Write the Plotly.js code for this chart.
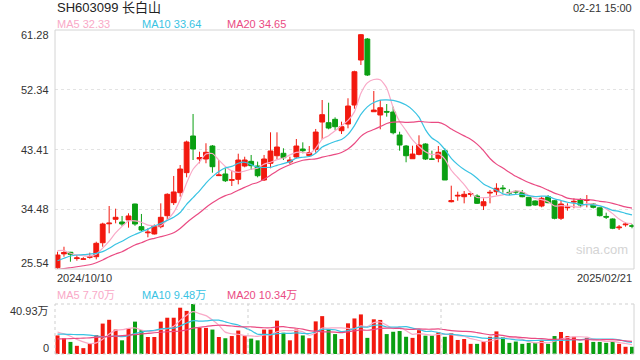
<!DOCTYPE html>
<html><head><meta charset="utf-8">
<script src="https://cdn.plot.ly/plotly-3.0.1.min.js"></script>
<style>html,body{margin:0;padding:0;background:#fff}#chart{width:640px;height:360px}</style>
</head><body><div id="chart"></div>
<script>
// ---- data ----
const titleText = 'SH603099 长白山';
const timeText = '02-21 15:00';
const dateLabels = ['2024/10/10', '2025/02/21'];
const priceTicks = [25.54, 34.48, 43.41, 52.34, 61.28];
const volTicks = ['0', '40.93万'];
const volMax = 40.93;
const maLegend = ['MA5 32.33', 'MA10 33.64', 'MA20 34.65'];
const volLegend = ['MA5 7.70万', 'MA10 9.48万', 'MA20 10.34万'];

const open = [25.73,27.8,28.04,27.1,27.0,27.28,27.38,29.47,32.3,32.97,
32.57,32.87,35.26,31.87,30.95,30.78,31.87,33.51,35.46,36.95,
39.95,45.43,42.0,41.99,43.93,39.5,39.75,38.8,38.95,40.94,
41.64,40.94,38.85,41.35,42.48,42.84,41.54,42.29,43.48,42.48,
43.43,47.52,47.42,47.92,46.22,47.22,50.06,56.79,59.93,49.06,
48.57,49.1,49.01,45.58,43.93,42.03,42.68,44.23,42.0,42.09,
43.23,35.6,36.45,36.35,36.7,36.46,35.0,36.9,37.1,37.65,
37.0,37.15,36.95,36.26,35.71,34.96,36.35,35.75,33.12,34.7,
35.55,35.86,35.8,35.26,34.7,33.4,33.02,31.7,32.15,32.0];
const close = [27.63,28.0,27.74,27.2,27.05,27.38,29.38,32.27,32.4,33.27,
32.27,33.47,32.27,31.37,31.05,31.97,33.27,36.71,37.06,40.49,
44.53,43.48,42.2,42.99,40.84,39.6,38.74,38.9,41.84,41.84,
40.99,39.49,41.99,43.19,43.78,42.18,41.84,43.93,43.23,42.93,
46.02,48.62,46.62,46.82,46.82,49.91,55.04,60.58,54.55,49.31,
49.66,49.0,45.92,44.08,42.48,42.73,44.08,41.99,41.95,42.99,
38.85,35.75,36.55,36.71,36.8,35.36,35.6,37.0,37.61,37.55,
36.9,37.05,36.35,35.0,35.11,36.11,35.46,33.12,35.26,34.8,
35.65,35.11,35.9,34.76,33.51,33.3,31.63,31.8,32.25,31.95];
const high = [28.13,28.87,28.1,27.63,27.3,27.98,29.62,32.46,34.96,34.56,
33.47,33.87,35.3,33.77,31.63,32.2,35.36,36.86,39.45,41.09,
44.73,48.72,43.08,44.34,44.08,41.84,40.6,40.24,42.78,42.33,
42.59,41.59,42.59,45.98,45.98,43.59,42.33,44.98,44.48,43.93,
46.48,50.81,50.41,48.22,47.57,51.07,55.19,60.68,60.08,52.16,
50.81,50.21,49.81,46.07,44.08,43.98,45.53,44.34,43.23,43.93,
43.59,38.0,37.1,37.2,37.1,36.71,36.11,37.35,38.36,38.1,
37.46,37.35,37.35,36.3,35.8,36.35,36.6,35.86,35.75,35.36,
36.11,36.11,36.6,35.4,34.75,33.96,33.1,32.12,32.52,32.27];
const low = [25.54,27.38,26.63,26.78,26.95,27.08,26.99,28.87,30.88,32.37,
31.97,31.72,32.0,31.2,30.28,30.7,31.63,32.87,35.11,36.35,
39.25,41.84,41.35,41.35,39.94,39.45,38.55,37.95,38.2,40.75,
40.34,39.25,38.7,40.6,41.99,41.84,41.24,42.09,42.84,42.33,
42.93,44.98,46.43,46.33,45.73,46.58,49.51,56.05,54.4,49.06,
46.43,48.32,45.68,43.23,41.5,42.03,42.54,41.84,41.84,41.5,
38.85,35.5,35.75,35.36,36.35,35.26,34.36,35.36,36.6,36.95,
36.6,36.76,36.26,34.95,35.0,34.76,35.36,32.97,32.87,34.26,
34.62,34.76,34.76,34.6,33.4,33.02,31.5,31.37,31.87,31.63];

const ma5 = [28.28,28.3,27.89,27.63,27.52,27.47,27.75,28.66,29.70,30.94,
31.92,32.74,32.74,32.53,32.09,32.03,31.99,32.87,34.01,35.9,
38.41,40.45,41.55,42.74,42.81,41.82,40.87,40.21,39.98,40.18,
40.46,40.61,41.23,41.5,41.89,42.13,42.6,42.98,42.99,42.82,
43.59,44.95,45.48,46.2,46.98,47.76,49.04,51.83,53.38,53.88,
53.83,52.62,49.69,47.59,46.23,44.84,43.86,43.07,42.65,42.75,
41.97,40.31,39.22,38.17,36.93,36.23,36.2,36.29,36.47,36.62,
36.93,37.22,37.09,36.57,36.08,35.92,35.61,34.96,35.01,34.95,
34.86,34.79,35.34,35.24,34.99,34.52,33.82,33.0,32.45,32.33];
const ma10 = [26.78,27.14,27.48,27.63,27.68,27.78,27.89,28.13,28.63,29.23,
29.70,30.24,30.70,31.11,31.51,31.97,32.36,32.81,33.27,33.99,
35.22,36.22,37.21,38.38,39.35,40.12,40.66,40.88,41.36,41.5,
41.14,40.74,40.72,40.74,41.04,41.29,41.6,42.11,42.25,42.36,
42.86,43.77,44.23,44.6,44.9,45.67,46.99,48.66,49.79,50.43,
50.79,50.83,50.76,50.49,50.05,49.34,48.24,46.38,45.12,44.49,
43.41,42.08,41.15,40.41,39.84,39.1,38.26,37.76,37.32,36.78,
36.58,36.71,36.69,36.52,36.35,36.43,36.41,36.03,35.79,35.52,
35.39,35.2,35.15,35.13,34.97,34.69,34.3,34.17,33.87,33.64];
const ma20 = [25.5,25.59,25.73,25.88,26.03,26.18,26.48,26.89,27.38,27.78,
28.13,28.63,29.13,29.47,29.88,30.13,30.37,30.62,30.97,31.61,
32.46,33.23,33.95,34.74,35.43,36.04,36.51,36.84,37.32,37.74,
38.18,38.48,38.97,39.56,40.2,40.71,41.13,41.5,41.8,41.93,
42.0,42.26,42.48,42.67,42.97,43.48,44.3,45.38,46.02,46.39,
46.83,47.3,47.5,47.54,47.48,47.5,47.62,47.52,47.46,47.46,
47.1,46.46,45.95,45.45,44.95,44.22,43.25,42.07,41.22,40.63,
40.0,39.4,38.92,38.47,38.1,37.77,37.33,36.89,36.56,36.15,
35.99,35.96,35.92,35.83,35.66,35.56,35.36,35.1,34.83,34.65];

const vol = [15.2,12.9,9.9,6.7,4.8,8.5,15.5,24.9,28.0,20.0,
11.2,20.9,26.5,19.5,13.9,13.9,26.5,29.7,29.7,37.9,
35.3,40.93,21.4,21.4,20.0,13.9,12.9,14.7,19.2,14.7,
12.6,11.2,20.0,20.0,27.3,17.4,11.2,20.0,15.2,12.9,
26.7,31.0,20.3,16.3,12.3,25.1,29.1,32.4,13.2,28.4,
27.9,16.3,18.2,18.8,14.1,13.2,19.5,15.0,15.0,17.7,
14.1,16.9,11.5,12.3,8.3,8.3,10.2,14.1,18.5,13.7,
9.1,10.2,8.3,9.1,9.1,11.0,8.3,14.7,18.0,14.7,
14.1,9.1,13.2,9.9,9.9,9.1,9.9,8.3,5.9,5.9];
const vma5 = [18.0,16.5,14.5,12.0,9.9,8.56,9.08,12.08,16.34,19.38,
19.92,21.0,21.32,19.62,18.4,18.94,20.06,20.7,22.74,27.54,
31.82,34.71,33.05,31.39,27.81,23.53,17.92,16.58,16.14,15.08,
14.82,14.48,15.54,15.7,18.22,19.18,19.18,19.18,18.22,15.34,
17.2,21.16,21.22,21.44,21.32,21.0,20.62,23.04,22.42,25.64,
26.2,23.64,20.8,21.92,19.06,16.12,16.76,16.12,15.36,16.08,
16.26,15.74,15.04,14.5,12.62,11.46,10.12,10.64,11.88,12.96,
13.12,13.12,11.96,10.08,9.16,9.54,9.16,10.44,12.22,13.34,
13.96,14.12,13.82,12.2,11.24,10.24,10.4,9.42,8.62,7.70];
const vma10 = [16.3,16.2,16.0,15.9,15.8,15.4,14.8,14.2,14.4,14.64,
14.24,15.04,16.7,17.98,18.89,19.43,20.53,21.01,21.18,22.97,
25.38,27.38,26.87,27.06,27.67,27.67,26.31,24.81,23.76,21.44,
19.17,16.2,16.06,15.92,16.65,17.0,16.83,17.36,16.96,16.78,
18.19,20.17,20.2,19.83,18.33,19.1,20.89,22.13,21.93,23.48,
23.6,22.13,21.92,22.17,22.35,21.16,20.2,18.46,18.64,17.57,
16.19,16.25,15.58,14.93,14.35,13.86,12.93,12.84,13.19,12.79,
12.29,11.62,11.3,10.98,11.06,11.33,11.14,11.2,11.15,11.25,
11.75,11.64,12.13,12.21,12.29,12.1,12.26,11.62,10.4,9.48];
const vma20 = [12.3,12.4,12.6,12.8,13.0,13.2,13.6,14.0,14.3,14.6,
15.0,15.5,15.9,16.4,16.9,17.4,17.8,18.2,18.5,18.81,
19.81,21.21,21.79,22.52,23.28,23.55,23.42,22.91,22.47,22.21,
22.28,21.79,21.47,21.49,22.16,22.34,21.57,21.09,20.36,19.11,
18.68,18.19,18.13,17.88,17.49,18.05,18.86,19.75,19.45,20.13,
20.9,21.15,21.06,21.0,20.34,20.13,20.55,20.3,20.29,20.53,
19.9,19.19,18.75,18.55,18.35,17.51,16.57,15.65,15.92,15.18,
14.24,13.94,13.44,12.96,12.71,12.6,12.04,12.02,12.17,12.02,
12.02,11.63,11.72,11.6,11.68,11.72,11.7,11.41,10.78,10.34];

// ---- styling ----
const RED = '#f2190f', GREEN = '#0a9f12';
const C5 = '#f9a9c7', C10 = '#39c3e3', C20 = '#ea4b83';
const FONT = '"Liberation Sans", Arial, "Noto Sans CJK SC", sans-serif';

const idx = open.map((_, i) => i);
const volColors = close.map((c, i) => (c >= open[i] ? RED : GREEN));

const line = (y, color, ax) => ({type: 'scatter', mode: 'lines', x: idx, y: y, yaxis: ax,
  line: {color: color, width: 1.2, shape: 'spline', smoothing: 0.6}, hoverinfo: 'skip'});

const traces = [
  {type: 'candlestick', x: idx, open: open, high: high, low: low, close: close, yaxis: 'y',
   increasing: {line: {color: RED, width: 1}, fillcolor: RED},
   decreasing: {line: {color: GREEN, width: 1}, fillcolor: GREEN},
   whiskerwidth: 0, hoverinfo: 'skip'},
  line(ma5, C5, 'y'), line(ma10, C10, 'y'), line(ma20, C20, 'y'),
  {type: 'bar', x: idx, y: vol, yaxis: 'y2', width: 0.62, marker: {color: volColors, line: {width: 0}}, hoverinfo: 'skip'},
  line(vma5, C5, 'y2'), line(vma10, C10, 'y2'), line(vma20, C20, 'y2')
];

const W = 640, H = 360, ML = 55, MR = 6, MT = 30, MB = 6;
const PW = W - ML - MR, PH = H - MT - MB;
const py = (pix) => (H - MB - pix) / PH;   // pixel row -> paper y
const px = (pix) => (pix - ML) / PW;       // pixel col -> paper x

const ann = [];
const txt = (text, x, y, opts) => Object.assign({text: text, x: x, y: y, xref: 'paper', yref: 'paper',
  showarrow: false, xanchor: 'left', yanchor: 'middle', font: {family: FONT, size: 11, color: '#333'}}, opts || {});

ann.push(txt(titleText, 0, py(8), {font: {family: FONT, size: 13, color: '#222'}}));
ann.push(txt(timeText, 1, py(8), {xanchor: 'right'}));
const legX = [0, px(140), px(225)];
const legC = [C5, C10, C20];
maLegend.forEach((t, i) => ann.push(txt(t, legX[i], py(24), {font: {family: FONT, size: 11, color: legC[i]}})));
volLegend.forEach((t, i) => ann.push(txt(t, legX[i], py(295), {font: {family: FONT, size: 11, color: legC[i]}})));
ann.push(txt(dateLabels[0], 0, py(278)));
ann.push(txt(dateLabels[1], 1, py(278), {xanchor: 'right'}));
priceTicks.forEach((v, i) => ann.push({text: v.toFixed(2), x: 0, y: v, xref: 'paper', yref: 'y', showarrow: false,
  xanchor: 'right', yanchor: 'middle', xshift: -4,
  yshift: i === 0 ? 6 : (i === priceTicks.length - 1 ? -5 : 0),
  font: {family: FONT, size: 11, color: '#333'}}));
ann.push({text: volTicks[1], x: 0, y: volMax, xref: 'paper', yref: 'y2', showarrow: false, xanchor: 'right', yanchor: 'middle',
  xshift: -4, yshift: -7, font: {family: FONT, size: 11, color: '#333'}});
ann.push({text: volTicks[0], x: 0, y: 0, xref: 'paper', yref: 'y2', showarrow: false, xanchor: 'right', yanchor: 'middle',
  xshift: -4, yshift: 6, font: {family: FONT, size: 11, color: '#333'}});
ann.push(txt('sina.com', px(602), py(249), {xanchor: 'center', font: {family: FONT, size: 13, color: '#d4d4d4'}}));

const BORDER = '#d4d4d4';
const shapes = [
  {type: 'rect', xref: 'x domain', yref: 'y domain', x0: 0, x1: 1, y0: 0, y1: 1, line: {color: BORDER, width: 1}},
  {type: 'line', xref: 'x domain', yref: 'y2 domain', x0: 0, x1: 1, y0: 1, y1: 1, line: {color: '#cfcfcf', width: 1, dash: 'dot'}},
  {type: 'line', xref: 'x domain', yref: 'y2 domain', x0: 0, x1: 0, y0: 0, y1: 1, line: {color: '#cfcfcf', width: 1, dash: 'dot'}},
  {type: 'line', xref: 'x domain', yref: 'y2 domain', x0: 0, x1: 1, y0: 0, y1: 0, line: {color: '#cfcfcf', width: 1, dash: 'dot'}},
  {type: 'line', xref: 'x domain', yref: 'y2 domain', x0: 1, x1: 1, y0: 0, y1: 1, line: {color: BORDER, width: 1}},
  {type: 'line', xref: 'x domain', yref: 'y2 domain', x0: 1/3, x1: 1/3, y0: 0, y1: 1, line: {color: '#cfcfcf', width: 1, dash: 'dot'}},
  {type: 'line', xref: 'x domain', yref: 'y2 domain', x0: 2/3, x1: 2/3, y0: 0, y1: 1, line: {color: '#cfcfcf', width: 1, dash: 'dot'}}
];

const layout = {
  width: W, height: H, margin: {l: ML, r: MR, t: MT, b: MB},
  paper_bgcolor: '#fff', plot_bgcolor: 'rgba(0,0,0,0)', showlegend: false,
  boxgap: 0.25, boxgroupgap: 0, hovermode: false,
  xaxis: {range: [-0.39, 89.31], showgrid: false, zeroline: false, showticklabels: false, showline: false,
          rangeslider: {visible: false}, fixedrange: true},
  yaxis: {domain: [py(269), 1], range: [priceTicks[0], priceTicks[priceTicks.length - 1]],
          tickvals: priceTicks.slice(1, -1), showticklabels: false, showgrid: true,
          gridcolor: '#e3e3e3', griddash: '3px,3px', gridwidth: 1, zeroline: false, ticks: ''},
  yaxis2: {domain: [0, py(304)], range: [0, volMax], showgrid: false, zeroline: false, showticklabels: false, anchor: 'x'},
  annotations: ann, shapes: shapes
};

Plotly.newPlot('chart', traces, layout, {staticPlot: true, displayModeBar: false});
</script>
</body></html>
